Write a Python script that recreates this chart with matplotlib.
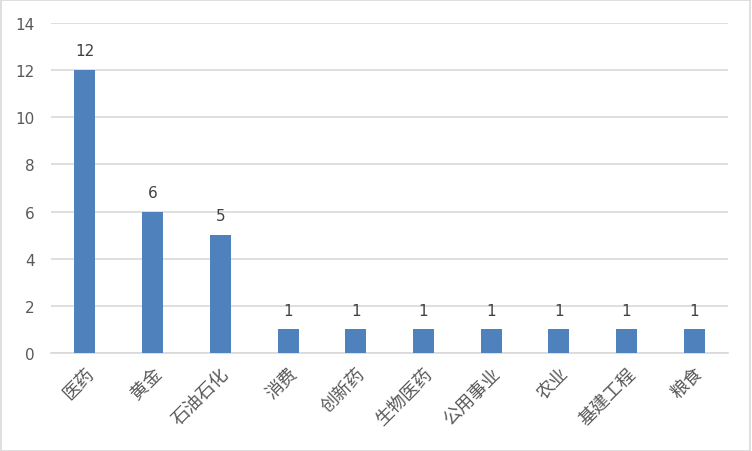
import matplotlib
matplotlib.use("Agg")
import matplotlib.pyplot as plt
from matplotlib.patches import Rectangle

plt.rcParams['font.family'] = ['Noto Sans CJK SC', 'DejaVu Sans']

categories = ["医药", "黄金", "石油石化", "消费", "创新药", "生物医药", "公用事业", "农业", "基建工程", "粮食"]
counts = [12, 6, 5, 1, 1, 1, 1, 1, 1, 1]

fig = plt.figure(figsize=(7.52, 4.52), dpi=100)
ax = fig.add_axes([0.068, 0.217, 0.900, 0.730])
fig.patches.append(Rectangle((0.001, 0.001), 0.997, 0.996, transform=fig.transFigure,
                             fill=False, edgecolor="#d9d9d9", lw=1.2))

x = range(len(categories))
bars = ax.bar(x, counts, width=0.31, color="#4f81bd", zorder=3)
for b, v in zip(bars, counts):
    ax.text(b.get_x() + b.get_width() / 2, v + 0.5, str(v), ha="center", va="bottom",
            fontsize=11, color="#404040", family="DejaVu Sans")

ax.set_xlim(-0.5, len(categories) - 0.5)
ax.set_ylim(0, 14)
ax.set_yticks(range(0, 15, 2))
ax.grid(axis="y", color="#d9d9d9", lw=1.2, zorder=0)
for s in ["top", "right", "left"]:
    ax.spines[s].set_visible(False)
ax.spines["bottom"].set_color("#d9d9d9")
ax.spines["bottom"].set_linewidth(1.2)
ax.tick_params(axis="both", length=0, colors="#595959", labelsize=11)
ax.tick_params(axis="y", pad=12)
ax.tick_params(axis="x", pad=8)
ax.set_xticks(list(x))
ax.set_xticklabels(categories, rotation=45, ha="right", rotation_mode="anchor", fontsize=13)
for lbl in ax.get_yticklabels():
    lbl.set_family("DejaVu Sans")

fig.savefig("out.png", dpi=100)
